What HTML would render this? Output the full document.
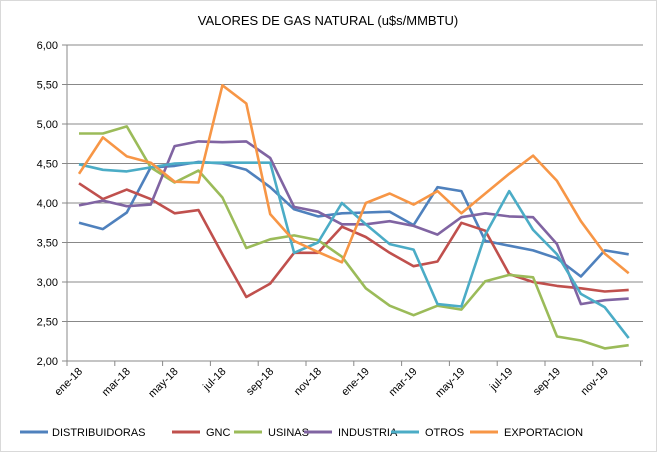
<!DOCTYPE html>
<html><head><meta charset="utf-8"><style>
body{margin:0;background:#fff;}
svg{display:block;font-family:"Liberation Sans",sans-serif;}
</style></head><body>
<svg width="657" height="452" viewBox="0 0 657 452" xmlns="http://www.w3.org/2000/svg">
<rect x="0.5" y="0.5" width="656" height="451" fill="#fff" stroke="#d9d9d9"/>
<text x="328" y="25" text-anchor="middle" font-size="13" fill="#000">VALORES DE GAS NATURAL (u$s/MMBTU)</text>
<g id="grid" stroke="#888" stroke-width="1"></g>
<g id="ylab" font-size="11" fill="#000" text-anchor="end"></g>
<g id="xlab" font-size="11" fill="#000"></g>
<g id="series" fill="none" stroke-width="2.6" stroke-linejoin="round"></g>
<g font-size="11" fill="#000">
<line x1="20" y1="432" x2="48" y2="432" stroke="#4F81BD" stroke-width="3"/><text x="52" y="436">DISTRIBUIDORAS</text>
<line x1="172" y1="432" x2="200" y2="432" stroke="#C0504D" stroke-width="3"/><text x="206" y="436">GNC</text>
<line x1="234" y1="432" x2="262" y2="432" stroke="#9BBB59" stroke-width="3"/><text x="268" y="436">USINAS</text>
<line x1="304" y1="432" x2="332" y2="432" stroke="#8064A2" stroke-width="3"/><text x="338" y="436">INDUSTRIA</text>
<line x1="391" y1="432" x2="419" y2="432" stroke="#4BACC6" stroke-width="3"/><text x="425" y="436">OTROS</text>
<line x1="470" y1="432" x2="498" y2="432" stroke="#F79646" stroke-width="3"/><text x="504" y="436">EXPORTACION</text>
</g>
</svg>
<script>
const NS="http://www.w3.org/2000/svg";
const Y=v=>361-(v-2)*79, X=i=>79+23.9*i;
const g=document.getElementById('grid'),yl=document.getElementById('ylab'),xl=document.getElementById('xlab'),s=document.getElementById('series');
function el(t,a,p,txt){const e=document.createElementNS(NS,t);for(const k in a)e.setAttribute(k,a[k]);if(txt)e.textContent=txt;p.appendChild(e);return e;}
for(let v=2;v<=6.001;v+=0.5){const y=Y(v);el('line',{x1:62,x2:643,y1:y,y2:y},g);el('text',{x:58,y:y+4},yl,v.toFixed(2).replace('.',','));}
el('line',{x1:67,x2:67,y1:Y(6),y2:366},g);
for(let i=0;i<=24;i+=2){const x=67+23.9*i;el('line',{x1:x,x2:x,y1:361,y2:366},g);}
const m=['ene-18','mar-18','may-18','jul-18','sep-18','nov-18','ene-19','mar-19','may-19','jul-19','sep-19','nov-19'];
m.forEach((t,k)=>{const x=X(2*k)+4,y=372;el('text',{x:x,y:y,'text-anchor':'end',transform:`rotate(-45 ${x} ${y})`},xl,t);});
const D=[
['#4F81BD',[3.75,3.67,3.88,4.45,4.47,4.52,4.50,4.42,4.20,3.92,3.83,3.87,3.88,3.89,3.72,4.20,4.15,3.52,3.46,3.40,3.30,3.07,3.40,3.35]],
['#C0504D',[4.25,4.05,4.17,4.05,3.87,3.91,3.35,2.81,2.98,3.37,3.37,3.70,3.57,3.37,3.20,3.26,3.75,3.65,3.10,3.00,2.95,2.92,2.88,2.90]],
['#9BBB59',[4.88,4.88,4.97,4.45,4.26,4.41,4.07,3.43,3.54,3.59,3.53,3.32,2.92,2.70,2.58,2.70,2.65,3.01,3.09,3.06,2.31,2.26,2.16,2.20]],
['#8064A2',[3.97,4.03,3.96,3.98,4.72,4.78,4.77,4.78,4.57,3.95,3.89,3.73,3.73,3.77,3.71,3.60,3.82,3.87,3.83,3.82,3.48,2.72,2.77,2.79]],
['#4BACC6',[4.49,4.42,4.40,4.45,4.50,4.51,4.51,4.51,4.51,3.37,3.50,4.00,3.73,3.48,3.41,2.72,2.69,3.60,4.15,3.66,3.35,2.85,2.68,2.29]],
['#F79646',[4.37,4.83,4.59,4.51,4.27,4.26,5.49,5.26,3.86,3.52,3.38,3.25,4.00,4.12,3.98,4.15,3.87,4.12,4.37,4.60,4.28,3.77,3.36,3.11]]];
D.forEach(([c,v])=>el('polyline',{stroke:c,points:v.map((a,i)=>X(i).toFixed(1)+','+Y(a).toFixed(1)).join(' ')},s));
</script>
</body></html>
